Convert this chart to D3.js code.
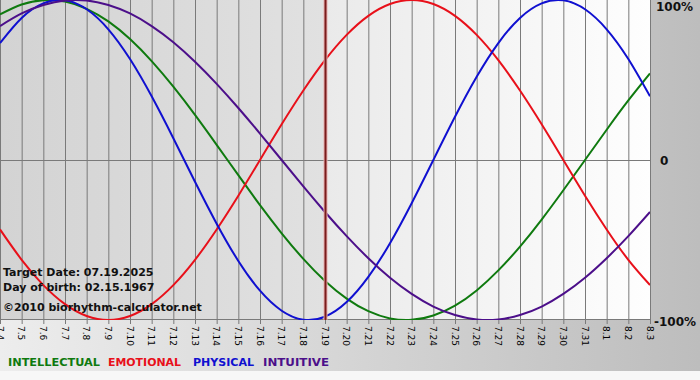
<!DOCTYPE html>
<html><head><meta charset="utf-8">
<script src="https://cdn.jsdelivr.net/npm/d3@7"></script>
<style>html,body{margin:0;padding:0;background:#fff;}svg{display:block;}</style>
</head><body>
<svg id="chart" width="700" height="380"></svg>
<script>
const days = ["7.4","7.5","7.6","7.7","7.8","7.9","7.10","7.11","7.12","7.13","7.14","7.15","7.16","7.17","7.18","7.19","7.20","7.21","7.22","7.23","7.24","7.25","7.26","7.27","7.28","7.29","7.30","7.31","8.1","8.2","8.3"];
const physical = [73.1, 88.8, 97.9, 99.8, 94.2, 81.7, 63.1, 39.8, 13.6, -13.6, -39.8, -63.1, -81.7, -94.2, -99.8, -97.9, -88.8, -73.1, -52.0, -27.0, 0, 27.0, 52.0, 73.1, 88.8, 97.9, 99.8, 94.2, 81.7, 63.1, 39.8];
const emotional = [-43.4, -62.4, -78.2, -90.1, -97.5, -100, -97.5, -90.1, -78.2, -62.4, -43.4, -22.3, 0, 22.3, 43.4, 62.4, 78.2, 90.1, 97.5, 100, 97.5, 90.1, 78.2, 62.4, 43.4, 22.3, 0, -22.3, -43.4, -62.4, -78.2];
const intellectual = [91.0, 97.2, 99.9, 99.0, 94.5, 86.6, 75.6, 61.8, 45.8, 28.2, 9.5, -9.5, -28.2, -45.8, -61.8, -75.6, -86.6, -94.5, -99.0, -99.9, -97.2, -91.0, -81.5, -69.0, -54.1, -37.2, -18.9, 0, 18.9, 37.2, 54.1];
const intuitive = [83.7, 91.6, 96.9, 99.7, 99.7, 96.9, 91.6, 83.7, 73.6, 61.4, 47.6, 32.5, 16.5, 0, -16.5, -32.5, -47.6, -61.4, -73.6, -83.7, -91.6, -96.9, -99.7, -99.7, -96.9, -91.6, -83.7, -73.6, -61.4, -47.6, -32.5];
const seriesNames = ["INTELLECTUAL","EMOTIONAL","PHYSICAL","INTUITIVE"];
const yTickLabels = ["100%","0","-100%"];
const yTickValues = [100, 0, -100];
const targetDay = "7.19";
const infoLines = ["Target Date: 07.19.2025","Day of birth: 02.15.1967","©2010 biorhythm-calculator.net"];

const colors = {INTELLECTUAL:"#0f7a0f", EMOTIONAL:"#e8101a", PHYSICAL:"#1010d0", INTUITIVE:"#4c0f8a"};
const seriesData = {INTELLECTUAL:intellectual, EMOTIONAL:emotional, PHYSICAL:physical, INTUITIVE:intuitive};

const svg = d3.select("#chart");
const W = 700, H = 380;
const x = d3.scalePoint().domain(days).range([0, 650]);
const y = d3.scaleLinear().domain([-100, 100]).range([320, 0]);

const defs = svg.append("defs");
function hgrad(id, stops) {
  const g = defs.append("linearGradient").attr("id", id).attr("x1","0").attr("x2","1").attr("y1","0").attr("y2","0");
  stops.forEach(s => g.append("stop").attr("offset", s[0]).attr("stop-color", s[1]));
}
hgrad("bg", [[0,"#ededed"],[1,"#bdbdbd"]]);
hgrad("past", [[0,"#d3d3d3"],[1,"#e1e1e1"]]);
hgrad("future", [[0,"#eaeaea"],[1,"#fefefe"]]);
defs.append("clipPath").attr("id","clip").append("rect").attr("x",0).attr("y",0).attr("width",650).attr("height",320);

svg.append("rect").attr("width", W).attr("height", H).attr("fill", "url(#bg)");
svg.append("rect").attr("x",0).attr("y",371).attr("width",W).attr("height",9).attr("fill","#f7f7f7");

const tx = x(targetDay);
svg.append("rect").attr("x",0).attr("y",0).attr("width",tx).attr("height",320).attr("fill","url(#past)");
svg.append("rect").attr("x",tx).attr("y",0).attr("width",650-tx).attr("height",320).attr("fill","url(#future)");

// vertical grid
svg.append("g").selectAll("line").data(days).join("line")
  .attr("x1", d => x(d)+0.5).attr("x2", d => x(d)+0.5)
  .attr("y1", 0).attr("y2", 324)
  .attr("stroke", "#7a7a7a").attr("stroke-width", 1);
// horizontal lines
svg.append("g").selectAll("line").data(yTickValues).join("line")
  .attr("x1", 0).attr("x2", 651)
  .attr("y1", d => Math.min(319.5, y(d)+0.5)).attr("y2", d => Math.min(319.5, y(d)+0.5))
  .attr("stroke", "#7a7a7a").attr("stroke-width", 1)
  .attr("opacity", d => d === 100 ? 0 : 1);

// x tick labels, rotated
svg.append("g").selectAll("text").data(days).join("text")
  .attr("transform", d => `translate(${x(d)-3.5},326) rotate(90)`)
  .attr("font-family", "Verdana, 'DejaVu Sans', sans-serif")
  .attr("font-size", 9)
  .attr("fill", "#000")
  .text(d => d);

// y labels
svg.append("g").selectAll("text").data(yTickValues).join("text")
  .attr("x", (d,i) => [656, 660, 654][i])
  .attr("y", d => y(d) + (d === 100 ? 11 : d === 0 ? 5 : 6))
  .attr("font-family", "Verdana, 'DejaVu Sans', sans-serif")
  .attr("font-weight", "bold")
  .attr("font-size", 12)
  .attr("fill", "#111")
  .text((d,i) => yTickLabels[i]);

// curves
const line = d3.line().x((d,i) => x(days[i])).y(d => y(d)).curve(d3.curveNatural);
const gLines = svg.append("g").attr("clip-path","url(#clip)");
seriesNames.forEach(n => {
  gLines.append("path").attr("d", line(seriesData[n]))
    .attr("fill","none").attr("stroke", colors[n]).attr("stroke-width", 2);
});

// target line
svg.append("line").attr("x1", tx+0.5).attr("x2", tx+0.5).attr("y1", 0).attr("y2", 320)
  .attr("stroke", "#e9b0b0").attr("stroke-width", 4);
svg.append("line").attr("x1", tx+0.5).attr("x2", tx+0.5).attr("y1", 0).attr("y2", 320)
  .attr("stroke", "#7a1c1c").attr("stroke-width", 2);

// info text
svg.append("g").selectAll("text").data(infoLines).join("text")
  .attr("x", 3).attr("y", (d,i) => [276, 291, 311][i])
  .attr("font-family", "Verdana, 'DejaVu Sans', sans-serif")
  .attr("font-weight", "bold")
  .attr("font-size", 11)
  .attr("fill", "#111")
  .text(d => d);

// legend
const legendX = [8, 108, 193, 263];
const legendW = [92, 73, 61, 66];
svg.append("g").selectAll("text").data(seriesNames).join("text")
  .attr("x", (d,i) => legendX[i]).attr("y", 366)
  .attr("font-family", "Verdana, 'DejaVu Sans', sans-serif")
  .attr("font-size", 11)
  .attr("font-weight", "bold")
  .attr("textLength", (d,i) => legendW[i])
  .attr("lengthAdjust", "spacingAndGlyphs")
  .attr("fill", d => colors[d])
  .text(d => d);
</script>
</body></html>
